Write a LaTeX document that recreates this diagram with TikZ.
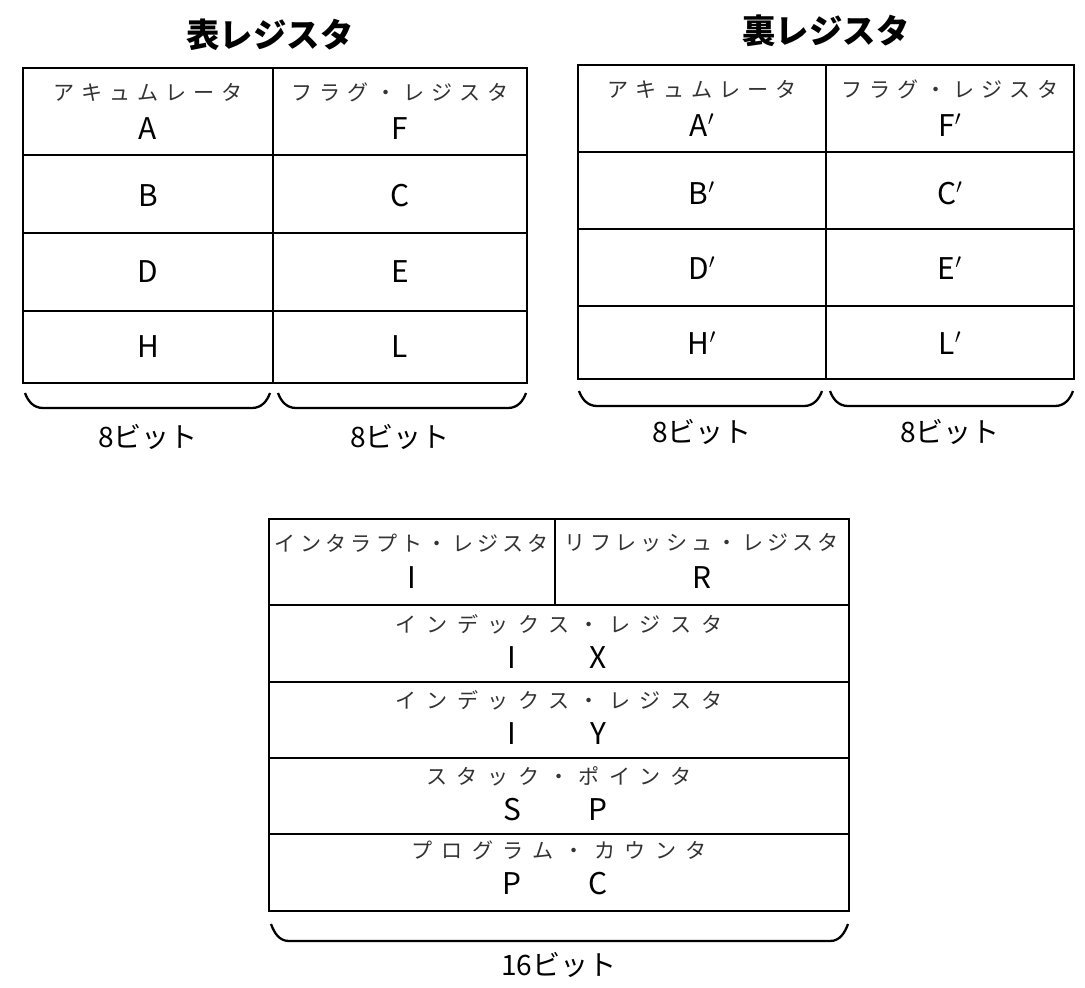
\documentclass[tikz,border=0pt]{standalone}
\usepackage{fontspec}
\setmainfont{Noto Sans CJK JP}
\newfontfamily\komojifont{Noto Sans CJK JP}[LetterSpace=33]
\newfontfamily\komojinfont{Noto Sans CJK JP}[LetterSpace=20]
\newfontfamily\komojiwfont{Noto Sans CJK JP}[LetterSpace=45]
\usetikzlibrary{calc}
\tikzset{
  waku/.style = {line width=1.6pt},
  sen/.style = {line width=1.3pt},
  ooji/.style = {font=\fontsize{17}{17}\selectfont},
  komoji/.style = {font=\komojifont\fontsize{12}{12}\selectfont, text=black!80},
  komojin/.style = {font=\komojinfont\fontsize{12}{12}\selectfont, text=black!80},
  komojiw/.style = {font=\komojiwfont\fontsize{12}{12}\selectfont, text=black!80},
  bitto/.style = {font=\fontsize{16}{16}\selectfont},
  midashi/.style = {font=\bfseries\fontsize{19}{19}\selectfont}
}
\begin{document}
\begin{tikzpicture}[x=0.02cm, y=-0.02cm]
  \useasboundingbox (0,0) rectangle (1085,987);
  %見出し
  \node[midashi](omote)at(270,35){表レジスタ};
  \node[midashi](ura)at(826,31){裏レジスタ};
  %表レジスタ
  \path[draw,waku](23,68)rectangle(527,383);
  \path[draw,sen](273,68)to(273,383);
  \foreach \y in {155,233,311}
    \path[draw,sen](23,\y)to(527,\y);
  \node[komoji](accA)at(148,92){アキュムレータ};
  \node[komoji](flgF)at(400,92){フラグ・レジスタ};
  \node[ooji](rA)at(148,129){A};
  \node[ooji](rF)at(400,129){F};
  \foreach \l/\r/\y in {B/C/196, D/E/272, H/L/347}{
    \node[ooji](r\l)at(148,\y){\l};
    \node[ooji](r\r)at(400,\y){\r};
  }
  %裏レジスタ
  \path[draw,waku](578,65)rectangle(1074,379);
  \path[draw,sen](826,65)to(826,379);
  \foreach \y in {152,229,306}
    \path[draw,sen](578,\y)to(1074,\y);
  \node[komoji](accA2)at(702,89){アキュムレータ};
  \node[komoji](flgF2)at(950,89){フラグ・レジスタ};
  \node[ooji](uA)at(702,125){A$'$};
  \node[ooji](uF)at(950,125){F$'$};
  \foreach \l/\r/\y in {B/C/193, D/E/268, H/L/343}{
    \node[ooji](u\l)at(702,\y){\l$'$};
    \node[ooji](u\r)at(950,\y){\r$'$};
  }
  %16ビットのレジスタ
  \path[draw,waku](269,519)rectangle(849,911);
  \path[draw,sen](555,519)to(555,605);
  \foreach \y in {605,682,758,834}
    \path[draw,sen](269,\y)to(849,\y);
  \node[komojin](labI)at(412,543){インタラプト・レジスタ};
  \node[komojin](labR)at(702,543){リフレッシュ・レジスタ};
  \node[ooji](rI)at(412,578){I};
  \node[ooji](rR)at(702,578){R};
  \foreach \n/\lab/\a/\b/\y in {IX/インデックス・レジスタ/I/X/624, IY/インデックス・レジスタ/I/Y/700,
      SP/スタック・ポインタ/S/P/776, PC/プログラム・カウンタ/P/C/850}{
    \node[komojiw](lab\n)at(559,\y){\lab};
    \node[ooji](\n a)at(512,\y+34){\a};
    \node[ooji](\n b)at(598,\y+34){\b};
  }
  %かっこ
  \foreach \xa/\xb/\ya/\yb in {25/270/393/408, 278/526/393/408, 579/822/391/406,
      830/1073/391/406, 271/848/924/941}
    \path[draw,sen](\xa,\ya)to[out=-70,in=180](\xa+18,\yb)to(\xb-18,\yb)to[out=0,in=-110](\xb,\ya);
  %ビット数
  \node[bitto](b1)at(148,437){8ビット};
  \node[bitto](b2)at(400,437){8ビット};
  \node[bitto](b3)at(702,432){8ビット};
  \node[bitto](b4)at(950,432){8ビット};
  \node[bitto](b5)at(559,965){16ビット};
\end{tikzpicture}
\end{document}
